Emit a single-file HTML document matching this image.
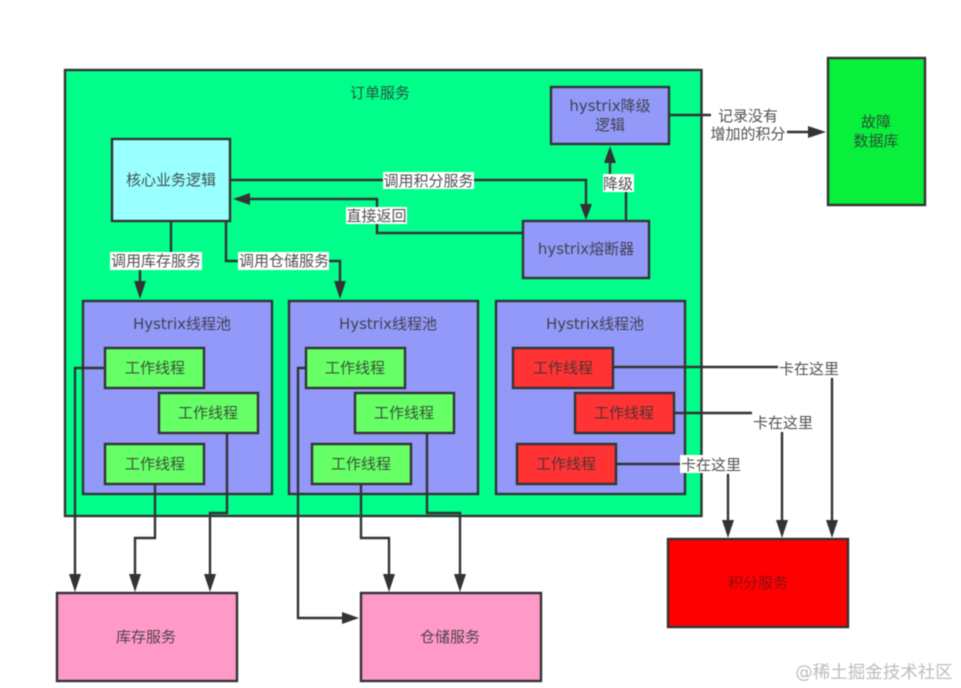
<!DOCTYPE html>
<html lang="zh">
<head>
<meta charset="utf-8">
<title>订单服务 Hystrix 线程池</title>
<style>
html,body{margin:0;padding:0;background:#fff;width:961px;height:688px;overflow:hidden}
svg{display:block;filter:blur(0.5px)}
text{font-family:"DejaVu Sans","Noto Sans CJK SC",sans-serif;font-size:15px;fill:#333;fill-opacity:.85;text-anchor:middle}
.b{stroke:#333;stroke-width:2.4}
.l{fill:none;stroke:#333;stroke-width:2.4}
.a{fill:#333}
.w{fill:#fff}
.p{fill:#9299f8}
.g{fill:#66ff66}
.r{fill:#ff3333}
.k{fill:#ff99c8}
</style>
</head>
<body>
<svg width="961" height="688" viewBox="0 0 961 688" xmlns="http://www.w3.org/2000/svg">
<rect width="961" height="688" fill="#fff"/>

<!-- containers -->
<rect class="b" x="65" y="70" width="636.500" height="446" fill="#00ff8a"/>
<rect class="b" x="112" y="139" width="118" height="82" fill="#99ffff"/>
<rect class="b p" x="551" y="87" width="118" height="57"/>
<rect class="b p" x="523" y="221" width="126" height="57"/>
<rect class="b" x="828" y="58" width="97" height="147" fill="#08f03c"/>

<rect class="b p" x="83" y="301" width="189" height="193"/>
<rect class="b p" x="289" y="301" width="189" height="193"/>
<rect class="b p" x="496" y="301" width="189" height="193"/>

<rect class="b g" x="105" y="348" width="99" height="40"/>
<rect class="b g" x="159" y="393" width="99" height="40"/>
<rect class="b g" x="105" y="444" width="99" height="40"/>
<rect class="b g" x="306" y="348" width="99" height="40"/>
<rect class="b g" x="355" y="393" width="99" height="40"/>
<rect class="b g" x="312" y="444" width="99" height="40"/>
<rect class="b r" x="513" y="348" width="100" height="40"/>
<rect class="b r" x="575" y="393" width="99" height="40"/>
<rect class="b r" x="517" y="444" width="99" height="40"/>

<rect class="b k" x="57" y="593" width="180" height="88"/>
<rect class="b k" x="361" y="593" width="180" height="88"/>
<rect class="b" x="668" y="539" width="180" height="88" fill="#ff0000"/>

<!-- connectors -->
<path class="l" d="M230 180H586V205"/>
<polygon class="a" points="580,204 592,204 586,220"/>
<path class="l" d="M523 233H377V199H248"/>
<polygon class="a" points="233,199 250,193 250,205"/>
<path class="l" d="M171 221V261H140V282"/>
<polygon class="a" points="134,281 146,281 140,299"/>
<path class="l" d="M226 221V261H340V282"/>
<polygon class="a" points="334,281 346,281 340,299"/>
<path class="l" d="M626 221V184H610V162"/>
<polygon class="a" points="604,163 616,163 610,146"/>
<path class="l" d="M669 115H711"/>
<path class="l" d="M787 132H810"/>
<polygon class="a" points="808,126 808,138 826,132"/>

<path class="l" d="M105 368H75V575"/>
<polygon class="a" points="69,574 81,574 75,592"/>
<path class="l" d="M155 484V538H135V575"/>
<polygon class="a" points="129,574 141,574 135,592"/>
<path class="l" d="M227 433V513H210V575"/>
<polygon class="a" points="204,574 216,574 210,592"/>

<path class="l" d="M306 368H298V618H343"/>
<polygon class="a" points="342,612 342,624 359,618"/>
<path class="l" d="M361 484V538H389V575"/>
<polygon class="a" points="383,574 395,574 389,592"/>
<path class="l" d="M427 433V513H460V575"/>
<polygon class="a" points="454,574 466,574 460,592"/>

<path class="l" d="M613 367H778"/>
<path class="l" d="M832 378V522"/>
<polygon class="a" points="826,520 838,520 832,538"/>
<path class="l" d="M674 413H752"/>
<path class="l" d="M782 432V522"/>
<polygon class="a" points="776,520 788,520 782,538"/>
<path class="l" d="M616 464H680"/>
<path class="l" d="M728 474V522"/>
<polygon class="a" points="722,520 734,520 728,538"/>

<!-- label backgrounds -->
<rect class="w" x="383" y="172" width="91" height="17"/>
<rect class="w" x="346" y="207" width="61" height="17"/>
<rect class="w" x="110" y="252" width="92" height="18"/>
<rect class="w" x="238" y="252" width="91" height="18"/>
<rect class="w" x="603" y="174" width="31" height="18"/>
<rect class="w" x="680" y="455" width="61" height="18"/>

<!-- labels -->
<text x="380" y="98">订单服务</text>
<text x="171" y="185">核心业务逻辑</text>
<text x="610" y="111">hystrix降级</text>
<text x="610" y="130">逻辑</text>
<text x="586" y="254">hystrix熔断器</text>
<text x="876" y="127">故障</text>
<text x="876" y="146">数据库</text>
<text x="428.500" y="186">调用积分服务</text>
<text x="376.500" y="221">直接返回</text>
<text x="156" y="266">调用库存服务</text>
<text x="284" y="266">调用仓储服务</text>
<text x="618" y="189">降级</text>
<text x="748" y="121">记录没有</text>
<text x="748" y="139">增加的积分</text>

<text x="182" y="329">Hystrix线程池</text>
<text x="388" y="329">Hystrix线程池</text>
<text x="595" y="329">Hystrix线程池</text>

<text x="155" y="373">工作线程</text>
<text x="208" y="418">工作线程</text>
<text x="155" y="469">工作线程</text>
<text x="355" y="373">工作线程</text>
<text x="404" y="418">工作线程</text>
<text x="361" y="469">工作线程</text>
<text x="563" y="373">工作线程</text>
<text x="624" y="418">工作线程</text>
<text x="566" y="469">工作线程</text>

<text x="809" y="374">卡在这里</text>
<text x="783" y="428">卡在这里</text>
<text x="711" y="470">卡在这里</text>

<text x="146" y="642">库存服务</text>
<text x="450" y="642">仓储服务</text>
<text x="758" y="588" style="fill:#7a1010">积分服务</text>

<text x="874" y="678" style="font-size:17.5px;fill:#bdbdbd;fill-opacity:1">@稀土掘金技术社区</text>
</svg>
</body>
</html>
